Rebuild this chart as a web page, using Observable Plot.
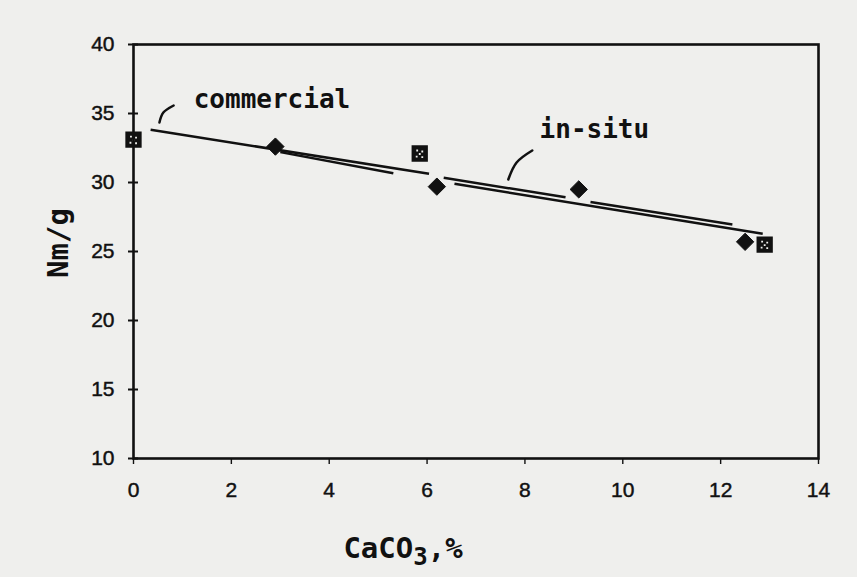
<!DOCTYPE html>
<html><head><meta charset="utf-8">
<script src="https://cdn.jsdelivr.net/npm/d3@7"></script>
<script src="https://cdn.jsdelivr.net/npm/@observablehq/plot@0.6"></script>
<style>html,body{margin:0;padding:0;background:#efefed;overflow:hidden;}</style>
</head><body><div id="chart"></div>
<script>
// Data
const commercialX = [0, 5.85, 12.9];
const commercialY = [33.1, 32.1, 25.5];
const inSituX = [2.9, 6.2, 9.1, 12.5];
const inSituY = [32.6, 29.7, 29.5, 25.7];
// hand-drawn fit line segments
const segX1 = [0.35, 3.0, 6.34, 9.34, 6.56];
const segY1 = [33.82, 32.2, 30.34, 28.59, 29.91];
const segX2 = [6.04, 5.31, 8.83, 12.24, 12.86];
const segY2 = [30.63, 30.67, 28.93, 26.96, 26.28];
// annotation leaders
const leaderCommercialX = [0.53, 0.61, 0.82];
const leaderCommercialY = [34.35, 35.07, 35.58];
const leaderInSituX = [7.66, 7.83, 8.15];
const leaderInSituY = [30.22, 31.45, 32.32];
const annoText = ["commercial", "in-situ"];
const annoX = [1.23, 8.30];
const annoY = [35.43, 33.26];
const xTicks = [0, 2, 4, 6, 8, 10, 12, 14];
const yTicks = [10, 15, 20, 25, 30, 35, 40];
const xLabelParts = ["CaCO", "3", ",%"];
const yLabelText = "Nm/g";

const commercial = commercialX.map((x, i) => ({x, y: commercialY[i]}));
const inSitu = inSituX.map((x, i) => ({x, y: inSituY[i]}));
const segs = segX1.map((x1, i) => ({x1, y1: segY1[i], x2: segX2[i], y2: segY2[i]}));
const leaders = [
  ...leaderCommercialX.map((x, i) => ({x, y: leaderCommercialY[i], g: "c"})),
  ...leaderInSituX.map((x, i) => ({x, y: leaderInSituY[i], g: "s"}))
];
const annos = annoText.map((t, i) => ({t, x: annoX[i], y: annoY[i]}));

const ink = "#111";
const speckledSquare = {
  draw(context, size) {
    const s = Math.sqrt(size) / 2;
    context.moveTo(-s, -s); context.lineTo(s, -s); context.lineTo(s, s); context.lineTo(-s, s); context.closePath();
    const k = s / 8, h = 0.9 * k;
    for (const [cx, cy] of [[-2.5, -3], [2.5, -2], [0, 0.5], [-3, 3], [2.5, 3.5]]) {
      const X = cx * k, Y = cy * k;
      context.moveTo(X - h, Y - h); context.lineTo(X - h, Y + h); context.lineTo(X + h, Y + h); context.lineTo(X + h, Y - h); context.closePath();
    }
  }
};

const chart = Plot.plot({
  width: 857, height: 577,
  marginLeft: 133, marginRight: 39, marginTop: 44, marginBottom: 119,
  style: {background: "#efefed", fontFamily: "Liberation Sans, Arial, sans-serif", fontSize: "21px", color: ink},
  x: {domain: [0, 14], ticks: xTicks},
  y: {domain: [10, 40], ticks: yTicks},
  marks: [
    Plot.frame({stroke: ink, strokeWidth: 2.6}),
    Plot.axisX({ticks: xTicks, tickSize: 6, tickPadding: 18, label: null, stroke: ink, strokeWidth: 1.4, fill: ink, fontSize: 21}),
    Plot.axisY({ticks: yTicks, tickSize: 5, tickPadding: 14, label: null, stroke: ink, strokeWidth: 2, fill: ink, fontSize: 21}),
    Plot.axisY({ticks: yTicks, tickSize: 5, text: null, label: null, dx: 5, stroke: ink, strokeWidth: 2}),
    Plot.link(segs, {x1: "x1", y1: "y1", x2: "x2", y2: "y2", stroke: ink, strokeWidth: 2.5}),
    Plot.line(leaders, {x: "x", y: "y", z: "g", curve: "catmull-rom", stroke: ink, strokeWidth: 2.5}),
    Plot.text(annos, {x: "x", y: "y", text: "t", textAnchor: "start", lineAnchor: "bottom", fontFamily: "DejaVu Sans Mono", fontWeight: "bold", fontSize: 26, fill: ink}),
    Plot.dot(inSitu, {x: "x", y: "y", symbol: "diamond2", r: 7.8, fill: ink, stroke: ink, strokeWidth: 1}),
    Plot.dot(commercial, {x: "x", y: "y", symbol: speckledSquare, r: 9.2, fill: ink})
  ]
});

document.getElementById("chart").appendChild(chart);

const svg = d3.select(chart);
// slightly heavier tick lettering, like the scanned original
svg.selectAll('g[aria-label$="tick label"] text').attr("stroke", ink).attr("stroke-width", 0.45);

// Axis titles (stencil-like lettering)
const xt = svg.append("text")
  .attr("x", 403).attr("y", 558)
  .attr("font-family", "DejaVu Sans Mono").attr("font-weight", "bold").attr("font-size", 29)
  .attr("fill", ink);
xt.append("tspan").text(xLabelParts[0]);
xt.append("tspan").attr("dy", 7).attr("font-size", 24).text(xLabelParts[1]);
xt.append("tspan").attr("dy", -7).text(xLabelParts[2]);

svg.append("text")
  .attr("transform", "translate(68,243) rotate(-90)")
  .attr("text-anchor", "middle")
  .attr("font-family", "DejaVu Sans Mono").attr("font-weight", "bold").attr("font-size", 29)
  .attr("fill", ink)
  .text(yLabelText);
</script>
</body></html>
